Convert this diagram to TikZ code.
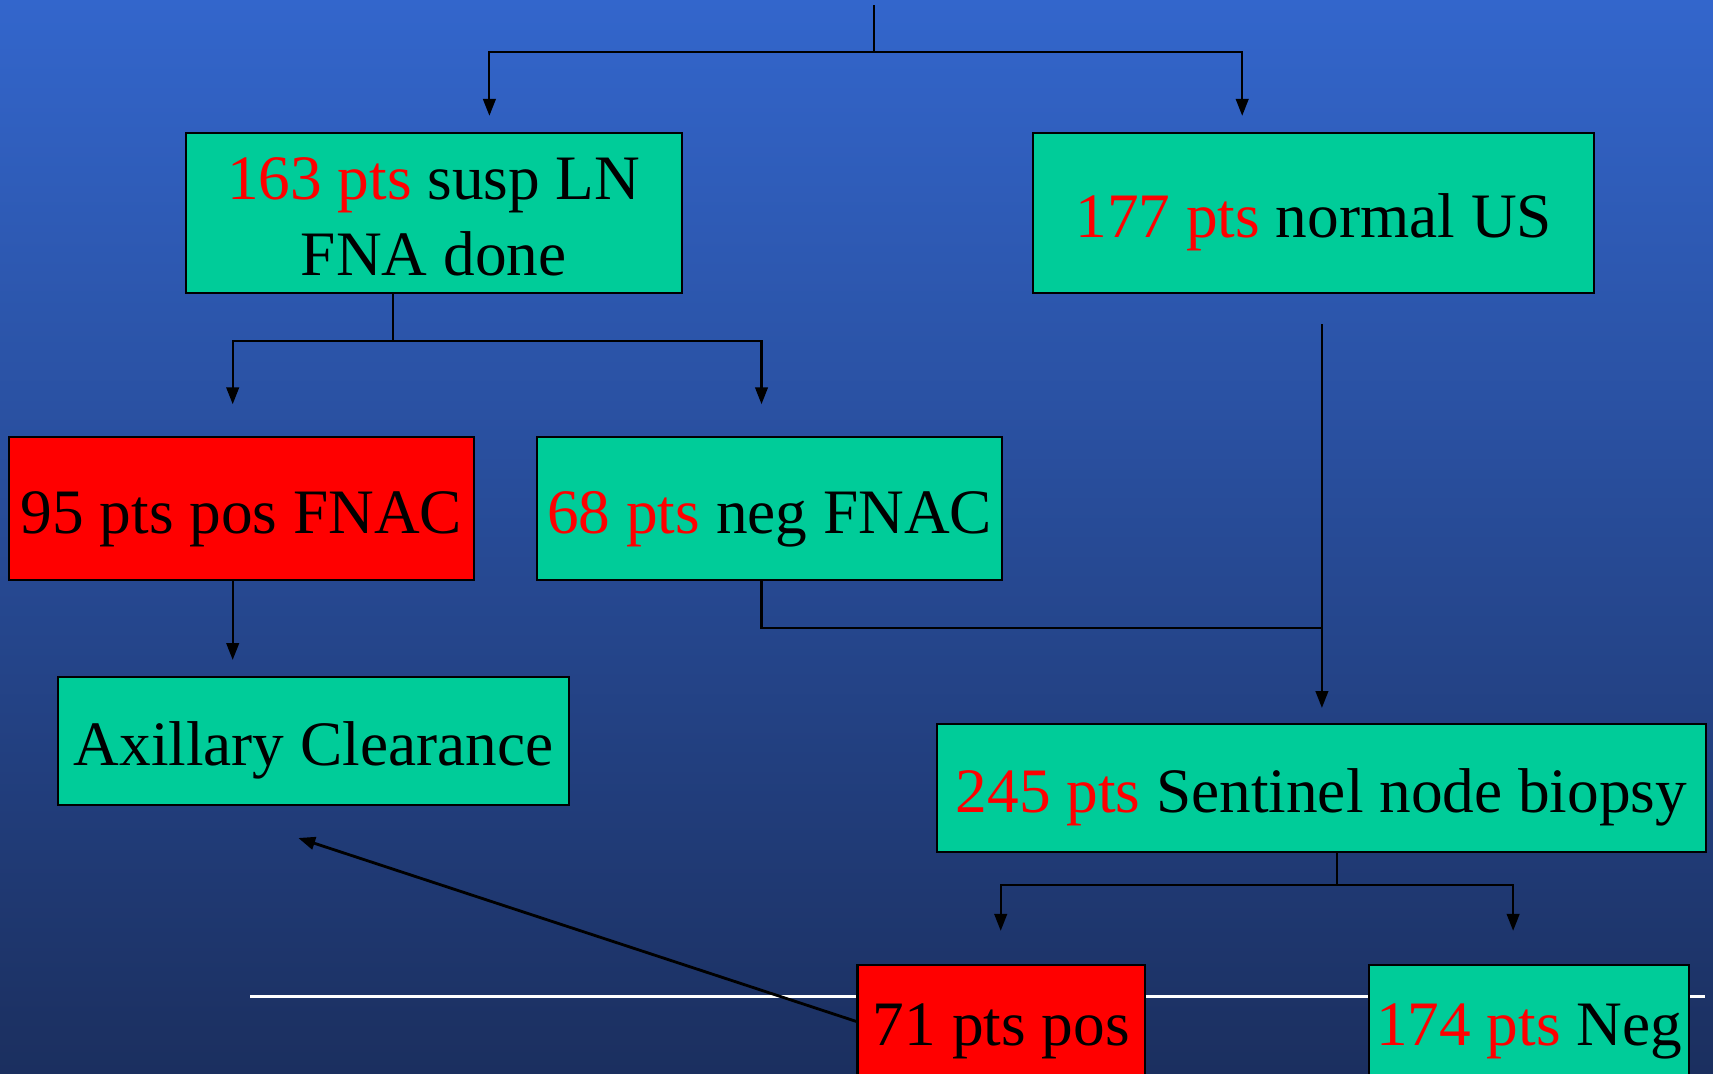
\documentclass[tikz,border=0pt]{standalone}
\usepackage{fontspec}
\setmainfont{Liberation Serif}
\usetikzlibrary{arrows.meta}

\definecolor{bgtop}{RGB}{51,102,204}
\definecolor{bgbot}{RGB}{27,47,95}
\definecolor{boxgreen}{RGB}{0,204,153}
\definecolor{numred}{RGB}{255,0,0}
\newcommand{\redtxt}[1]{\textcolor{numred}{#1}}

\tikzset{
  box/.style={draw=black,line width=0.6pt,fill=boxgreen,inner xsep=1pt,
    text height=13.9pt,text depth=0pt,align=center,font=\fontsize{18}{21.6}\selectfont},
  redbox/.style={box,fill=numred},
  arr/.style={-{Triangle[length=4.8pt,width=3.6pt]},line width=0.6pt},
  link/.style={line width=0.6pt}
}

\begin{document}
\begin{tikzpicture}[x=0.01cm,y=-0.01cm]
  \useasboundingbox (0,0) rectangle (1713,1074);
  \clip (0,0) rectangle (1713,1074);
  \shade[top color=bgtop,bottom color=bgbot] (0,0) rectangle (1713,1074);
  \draw[white,line width=0.7pt] (250.2,996.4) -- (1705.4,996.4);

  % boxes
  \node[box,text height=35.5pt,minimum width=4.96cm,minimum height=1.595cm] (susp) at (433.7,213)
    {\redtxt{163 pts} susp LN\\FNA done};
  \node[box,minimum width=5.605cm,minimum height=1.595cm] (normal) at (1313.75,213)
    {\redtxt{177 pts} normal US};
  \node[redbox,minimum width=4.654cm,minimum height=1.431cm] (posfnac) at (241.4,508.6)
    {95 pts pos FNAC};
  \node[box,minimum width=4.643cm,minimum height=1.431cm] (negfnac) at (769.65,508.6)
    {\redtxt{68 pts} neg FNAC};
  \node[box,minimum width=5.113cm,minimum height=1.278cm] (clear) at (313.55,741.3)
    {Axillary Clearance};
  \node[box,minimum width=7.68cm,minimum height=1.279cm] (snb) at (1321.4,788.25)
    {\redtxt{245 pts} Sentinel node biopsy};
  \node[redbox,minimum width=2.873cm,minimum height=1.136cm] (snbpos) at (1001.25,1021.5)
    {71 pts pos};
  \node[box,minimum width=3.201cm,minimum height=1.136cm] (snbneg) at (1528.95,1021.5)
    {\redtxt{174 pts} Neg};

  % connector points
  \coordinate (top) at (874,5.5);
  \coordinate (split) at (874,52.4);
  \coordinate (tipsusp) at (489.4,115.8);
  \coordinate (tipnormal) at (1242.2,115.8);
  \coordinate (stemsusp) at (393.3,340.9);
  \coordinate (tippos) at (232.7,404.2);
  \coordinate (tipneg) at (761.5,404.2);
  \coordinate (tipclear) at (232.7,659.9);
  \coordinate (usout) at (1321.9,324.5);
  \coordinate (tipsnb) at (1321.9,707.9);
  \coordinate (join) at (1321.9,628.2);
  \coordinate (stemsnb) at (1337.2,884.9);
  \coordinate (tipsnbpos) at (1000.7,930.8);
  \coordinate (tipsnbneg) at (1513.1,930.8);
  \coordinate (tipback) at (298.3,838);

  \draw[link] (top) -- (split);
  \draw[arr] (split) -| (tipsusp);
  \draw[arr] (split) -| (tipnormal);

  \draw[link] (susp.south -| stemsusp) -- (stemsusp);
  \draw[arr] (stemsusp) -| (tippos);
  \draw[arr] (stemsusp) -| (tipneg);

  \draw[arr] (posfnac.south -| tipclear) -- (tipclear);

  \draw[arr] (usout) -- (tipsnb);
  \draw[link] (negfnac.south -| tipneg) |- (join);

  \draw[link] (snb.south -| stemsnb) -- (stemsnb);
  \draw[arr] (stemsnb) -| (tipsnbpos);
  \draw[arr] (stemsnb) -| (tipsnbneg);

  \draw[arr,line width=0.8pt] (snbpos.west) -- (tipback);
\end{tikzpicture}
\end{document}
